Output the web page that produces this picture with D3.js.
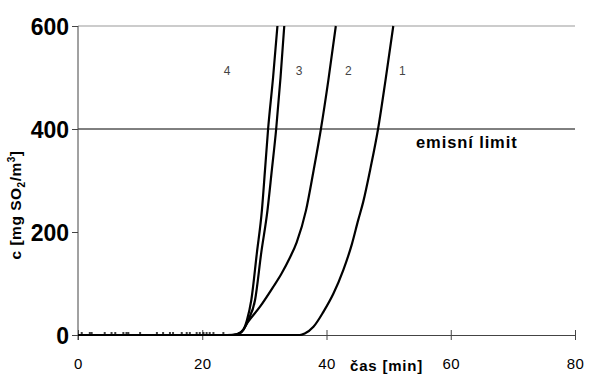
<!DOCTYPE html>
<html><head><meta charset="utf-8">
<script src="https://cdn.jsdelivr.net/npm/d3@7"></script>
<style>body{margin:0;background:#fff}svg{display:block}</style>
</head><body>
<svg id="c" width="598" height="374"></svg>
<script>
// Data (time [min], concentration [mg SO2/m3])
const series1 = [[0,0],[35.7,0],[36.5,3],[37.9,16],[39.5,45],[41.1,80],[42.7,126],[44.1,177],[45.1,223],[45.9,258],[47.1,325],[48.3,400],[49.5,495],[50.75,600]];
const series2 = [[25,0],[26.3,6],[27.4,26],[29.3,55],[31.4,93],[32.7,118],[34.1,150],[35.2,180],[36.7,242],[37.9,318],[39.1,400],[40.3,495],[41.5,600]];
const series3 = [[24,0],[25.5,1],[26.6,10],[27.4,29],[28.5,68],[29.5,160],[30.5,242],[31.2,320],[31.9,400],[32.6,500],[33.2,600]];
const series4 = [[0,0],[24,0],[25.5,1],[26.6,10],[27.2,29],[27.9,68],[28.8,160],[29.6,242],[30.1,320],[30.6,400],[31.4,500],[32.1,600]];
const noiseTimes = [0.6,1.9,2.2,4.3,5.4,6.0,7.3,7.8,8.1,10.0,12.7,13.7,14.8,15.3,16.7,17.5,18.0,19.1,19.6,20.2,20.7,21.2,21.8,23.4];
const curveLabels = [{t:"4",x:24},{t:"3",x:35.6},{t:"2",x:43.5},{t:"1",x:52.2}];
const xTicks = [0,20,40,60,80];
const yTicks = [0,200,400,600];
const limitValue = 400;

const FONT = "Liberation Sans, Arial, sans-serif";
const svg = d3.select("#c");
const x = d3.scaleLinear().domain([0,80]).range([78,575]);
const y = d3.scaleLinear().domain([0,600]).range([335,26]);

// top line at 600 (grey)
svg.append("line").attr("x1",x(0)).attr("x2",x(80)).attr("y1",y(600)).attr("y2",y(600))
  .attr("stroke","#999").attr("stroke-width",1);
// emission limit line
svg.append("line").attr("x1",x(0)).attr("x2",x(80)).attr("y1",y(limitValue)).attr("y2",y(limitValue))
  .attr("stroke","#000").attr("stroke-width",1);

// axes
const xAxis = svg.append("g").attr("transform",`translate(0,${y(0)})`)
  .call(d3.axisBottom(x).tickValues(xTicks).tickSize(0).tickPadding(23));
xAxis.select(".domain").attr("stroke","#444");
xAxis.selectAll(".tick").append("line").attr("y1",-5).attr("y2",5).attr("stroke","#444");
xAxis.selectAll("text").attr("font-family",FONT).attr("font-size",15).attr("letter-spacing",0.5).attr("fill","#000");

const yAxis = svg.append("g").attr("transform",`translate(${x(0)},0)`)
  .call(d3.axisLeft(y).tickValues(yTicks).tickSize(6).tickPadding(3));
yAxis.select(".domain").attr("stroke","#444").attr("d",`M0,${y(600)}V${y(0)+5}`);
yAxis.selectAll(".tick line").attr("stroke","#444");
yAxis.selectAll("text").attr("font-family",FONT).attr("font-size",23).attr("font-weight","bold").attr("fill","#000").attr("dy","0.36em");

// noise marks
svg.append("g").selectAll("line").data(noiseTimes).enter().append("line")
  .attr("x1",d=>x(d)-1).attr("x2",d=>x(d)+1).attr("y1",y(0)-2).attr("y2",y(0)-2)
  .attr("stroke","#000").attr("stroke-width",1.5);

const line = d3.line().x(d=>x(d[0])).y(d=>y(d[1])).curve(d3.curveMonotoneX);
[series1,series2,series3,series4].forEach(s=>{
  svg.append("path").attr("d",line(s)).attr("fill","none").attr("stroke","#000").attr("stroke-width",2.2);
});

// curve labels
svg.append("g").selectAll("text").data(curveLabels).enter().append("text")
  .attr("x",d=>x(d.x)).attr("y",75).attr("text-anchor","middle")
  .attr("font-family",FONT).attr("font-size",12).attr("fill","#444").text(d=>d.t);

// emission limit label
svg.append("text").attr("x",416).attr("y",148).attr("font-family",FONT)
  .attr("font-size",16.5).attr("font-weight","bold").attr("letter-spacing",0.9).text("emisní limit");

// x title
svg.append("text").attr("x",350).attr("y",371).attr("font-family",FONT)
  .attr("font-size",15).attr("font-weight","bold").attr("letter-spacing",0.8).text("čas [min]");

// y title
const yt = svg.append("text").attr("transform","translate(21,205) rotate(-90)").attr("text-anchor","middle")
  .attr("font-family",FONT).attr("font-size",15.5).attr("font-weight","bold").attr("letter-spacing",0.5);
yt.append("tspan").text("c [mg SO");
yt.append("tspan").attr("font-size",10).attr("dy",4).text("2");
yt.append("tspan").attr("dy",-4).text("/m");
yt.append("tspan").attr("font-size",10).attr("dy",-6).text("3");
yt.append("tspan").attr("dy",6).text("]");
</script>
</body></html>
